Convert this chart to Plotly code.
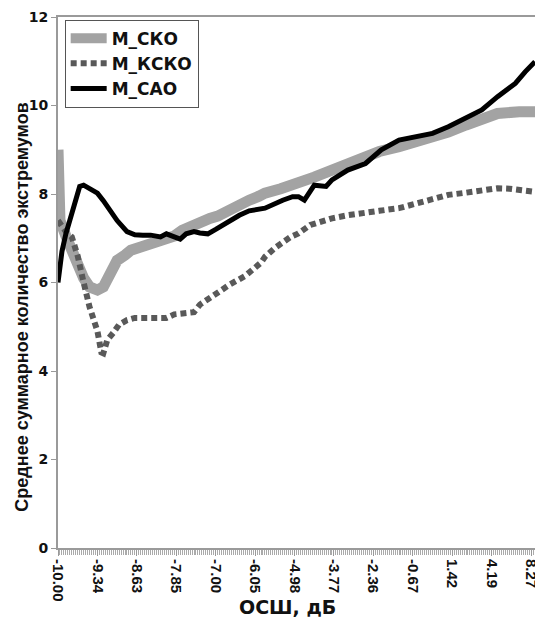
import plotly.graph_objects as go

# x positions are sample indices; tick labels show SNR in dB every 20 samples
snr_tick_labels = ["-10.00", "-9.34", "-8.63", "-7.85", "-7.00", "-6.05", "-4.98",
                   "-3.77", "-2.36", "-0.67", "1.42", "4.19", "8.27"]
tick_step = 20

sko_x = [0, 1, 4, 6, 10, 13, 16, 20, 23, 25, 28, 30, 34, 37, 42, 47, 52, 55, 59, 63, 68, 72,
         77, 81, 85, 89, 93, 97, 102, 105, 113, 122, 130, 139, 148, 156, 163, 173, 181, 190,
         198, 207, 215, 223, 234, 242]
sko_y = [9.0, 7.4, 7.05, 6.8, 6.45, 6.1, 5.9, 5.83, 5.9, 6.1, 6.3, 6.5, 6.62, 6.73, 6.8, 6.88,
         6.92, 6.96, 7.05, 7.18, 7.3, 7.4, 7.45, 7.5, 7.6, 7.7, 7.78, 7.86, 7.95, 8.02, 8.12,
         8.24, 8.38, 8.54, 8.7, 8.84, 8.96, 9.07, 9.16, 9.26, 9.4, 9.56, 9.7, 9.82, 9.86, 9.86]

ksko_x = [0, 4, 7, 10, 13, 16, 20, 22, 23, 25, 28, 31, 35, 39, 43, 47, 52, 55, 59, 62, 69, 72,
          76, 80, 87, 95, 103, 105, 110, 118, 122, 128, 133, 139, 147, 156, 163, 173, 181, 190,
          198, 207, 215, 223, 229, 237, 242]
ksko_y = [7.4, 7.15, 7.03, 6.6, 6.0, 5.45, 4.9, 4.42, 4.4, 4.7, 4.86, 5.05, 5.15, 5.2, 5.2, 5.2,
          5.2, 5.2, 5.28, 5.3, 5.33, 5.5, 5.62, 5.75, 5.95, 6.15, 6.45, 6.58, 6.78, 7.03, 7.11,
          7.3, 7.38, 7.45, 7.52, 7.56, 7.62, 7.68, 7.78, 7.9, 7.98, 8.03, 8.09, 8.13, 8.12, 8.09,
          8.05]

sao_x = [0, 2, 4, 6, 9, 11, 13, 16, 20, 23, 26, 30, 35, 39, 43, 47, 52, 55, 58, 62, 65, 69, 72,
         76, 80, 83, 87, 92, 97, 105, 114, 119, 122, 125, 130, 136, 139, 147, 156, 164, 173,
         181, 190, 198, 207, 215, 223, 232, 237, 242]
sao_y = [6.0, 6.7, 7.1, 7.4, 7.8, 8.17, 8.2, 8.12, 8.02, 7.85, 7.64, 7.4, 7.15, 7.08, 7.07,
         7.07, 7.03, 7.1, 7.05, 6.98, 7.1, 7.15, 7.12, 7.1, 7.2, 7.28, 7.4, 7.52, 7.62, 7.68,
         7.86, 7.94, 7.94, 7.86, 8.2, 8.17, 8.32, 8.54, 8.69, 9.0, 9.22, 9.3, 9.37, 9.52, 9.71,
         9.9, 10.2, 10.5, 10.76, 10.99]

NARROW = "Liberation Sans, Arial, sans-serif"
WIDE = "DejaVu Sans, sans-serif"
INK = "#111111"

fig = go.Figure()
fig.add_trace(go.Scatter(x=sko_x, y=sko_y, mode="lines", name="М_СКО",
                         line=dict(color="#a3a3a3", width=11)))
fig.add_trace(go.Scatter(x=ksko_x, y=ksko_y, mode="lines", name="М_КСКО",
                         line=dict(color="#595959", width=6, dash="6px,4px")))
fig.add_trace(go.Scatter(x=sao_x, y=sao_y, mode="lines", name="М_САО",
                         line=dict(color="#000000", width=5)))

fig.update_layout(
    width=535, height=619,
    margin=dict(l=58, r=0, t=17, b=71),
    paper_bgcolor="white", plot_bgcolor="white",
    font=dict(family=NARROW, color=INK),
    showlegend=True,
    legend=dict(x=0.014, y=0.995, xanchor="left", yanchor="top",
                bgcolor="white", bordercolor="#555555", borderwidth=1,
                font=dict(size=17, weight="bold", family=WIDE, color=INK),
                tracegroupgap=0, itemwidth=36),
    annotations=[
        dict(text="Среднее суммарное количество экстремумов", xref="paper", yref="paper",
             x=-0.076, y=0.454, textangle=-90, showarrow=False,
             xanchor="center", yanchor="middle",
             font=dict(size=18, weight="bold", family=NARROW, color=INK)),
        dict(text="ОСШ, дБ", xref="paper", yref="paper",
             x=0.482, y=-0.111, showarrow=False, xanchor="center", yanchor="middle",
             font=dict(size=19, weight="bold", family=WIDE, color=INK)),
    ],
)

fig.update_xaxes(
    range=[0, 242], automargin=False,
    tickmode="array",
    tickvals=[i * tick_step for i in range(len(snr_tick_labels))],
    ticktext=snr_tick_labels,
    tickangle=90, ticklabeloverflow="allow",
    tickfont=dict(size=15, weight="bold", family=NARROW, color=INK),
    ticks="outside", ticklen=6, tickcolor="#999999", tickwidth=1,
    minor=dict(dtick=1, ticks="outside", ticklen=5, tickcolor="#aaaaaa", tickwidth=1),
    showline=True, linecolor="#9a9a9a", linewidth=2, mirror=True,
    showgrid=False, zeroline=False,
)
fig.update_yaxes(
    range=[0, 12], dtick=2, automargin=False,
    tickfont=dict(size=14, weight="bold", family=WIDE, color=INK),
    ticks="outside", ticklen=5, tickcolor="#999999",
    showline=True, linecolor="#9a9a9a", linewidth=2,
    showgrid=False, zeroline=False,
)

fig.write_html("out.html", config={"displayModeBar": False},
               post_script="document.body.style.margin='0';document.body.style.overflow='hidden';")
